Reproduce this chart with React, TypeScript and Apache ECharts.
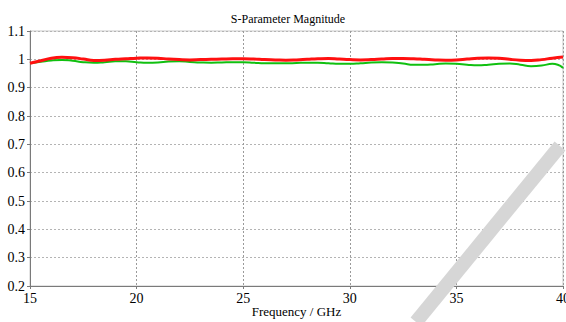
import React, { useEffect, useRef } from "react";
import * as echarts from "echarts";

const freq: number[] = [15,15.5,16,16.5,17,17.5,18,18.5,19,19.5,20,20.5,21,21.5,22,22.5,23,23.5,24,24.5,25,25.5,26,26.5,27,27.5,28,28.5,29,29.5,30,30.5,31,31.5,32,32.5,33,33.5,34,34.5,35,35.5,36,36.5,37,37.5,38,38.5,39,39.5,40];
const redMag: number[] = [0.986,0.995,1.004,1.007,1.006,1.001,0.996,0.997,1.0,1.002,1.004,1.005,1.004,1.001,0.999,0.998,0.999,1.0,1.001,1.002,1.002,1.001,0.999,0.998,0.997,0.998,1.0,1.002,1.003,1.001,0.999,0.998,0.999,1.001,1.003,1.003,1.002,1.0,0.998,0.997,0.998,1.001,1.004,1.005,1.004,1.0,0.997,0.996,0.999,1.004,1.008];
const greenMag: number[] = [0.986,0.991,0.996,0.998,0.995,0.99,0.988,0.99,0.993,0.993,0.99,0.988,0.989,0.992,0.993,0.991,0.989,0.988,0.989,0.99,0.99,0.988,0.986,0.986,0.986,0.987,0.988,0.988,0.986,0.984,0.984,0.986,0.989,0.99,0.989,0.985,0.981,0.981,0.983,0.985,0.984,0.981,0.979,0.981,0.984,0.985,0.981,0.976,0.978,0.984,0.97];

export default function App() {
  const ref = useRef<HTMLDivElement>(null);
  useEffect(() => {
    if (!ref.current) return;
    const chart = echarts.init(ref.current, null, { renderer: "svg" });
    const font = "Liberation Serif";
    chart.setOption({
      animation: false,
      backgroundColor: "#ffffff",
      textStyle: { fontFamily: font },
      title: {
        text: "S-Parameter Magnitude",
        left: 283,
        top: 8,
        textAlign: "center",
        textStyle: { fontFamily: font, fontSize: 12, fontWeight: "normal", color: "#000" },
      },
      grid: { left: 30, right: 3, top: 31, bottom: 36, show: true, borderColor: "#c8c8c8", borderWidth: 1, outerBoundsMode: "none", containLabel: false },
      xAxis: {
        type: "value",
        min: 15,
        max: 40,
        interval: 5,
        name: "Frequency / GHz",
        nameLocation: "middle",
        nameGap: 19,
        nameMoveOverlap: false,
        nameTextStyle: { fontFamily: font, fontSize: 13, color: "#000" },
        axisLine: { show: true, onZero: false, lineStyle: { color: "#7a7a7a", width: 1 } },
        axisTick: { show: true, length: 3, lineStyle: { color: "#7a7a7a" } },
        axisLabel: { fontFamily: font, fontSize: 14, color: "#000", margin: 5 },
        splitLine: { show: true, lineStyle: { type: [2, 2], color: "#9a9a9a" } },
      },
      yAxis: {
        type: "value",
        min: 0.2,
        max: 1.1,
        interval: 0.1,
        axisLine: { show: true, lineStyle: { color: "#7a7a7a", width: 1 } },
        axisTick: { show: true, length: 3, lineStyle: { color: "#7a7a7a" } },
        axisLabel: {
          fontFamily: font, fontSize: 14, color: "#000", margin: 5,
          formatter: (v: number) => String(parseFloat(v.toFixed(1))),
        },
        splitLine: { show: true, lineStyle: { type: [2, 2], color: "#b4b4b4" } },
      },
      series: [
        {
          type: "line",
          data: freq.map((f, i) => [f, greenMag[i]]),
          smooth: true,
          symbol: "none",
          lineStyle: { color: "#10c010", width: 2 },
          z: 2,
        },
        {
          type: "line",
          data: freq.map((f, i) => [f, redMag[i]]),
          smooth: true,
          symbol: "none",
          lineStyle: { color: "#ff1010", width: 3 },
          z: 3,
        },
      ],
      graphic: [
        {
          type: "polygon",
          z: 100,
          shape: { points: [[410.6, 317.6], [421.4, 326.4], [565.4, 150.4], [554.6, 141.6]] },
          style: { fill: "#d6d6d6" },
        },
      ],
    });
    return () => chart.dispose();
  }, []);
  return <div ref={ref} style={{ width: 566, height: 322, position: "absolute", left: 0, top: 0 }} />;
}
